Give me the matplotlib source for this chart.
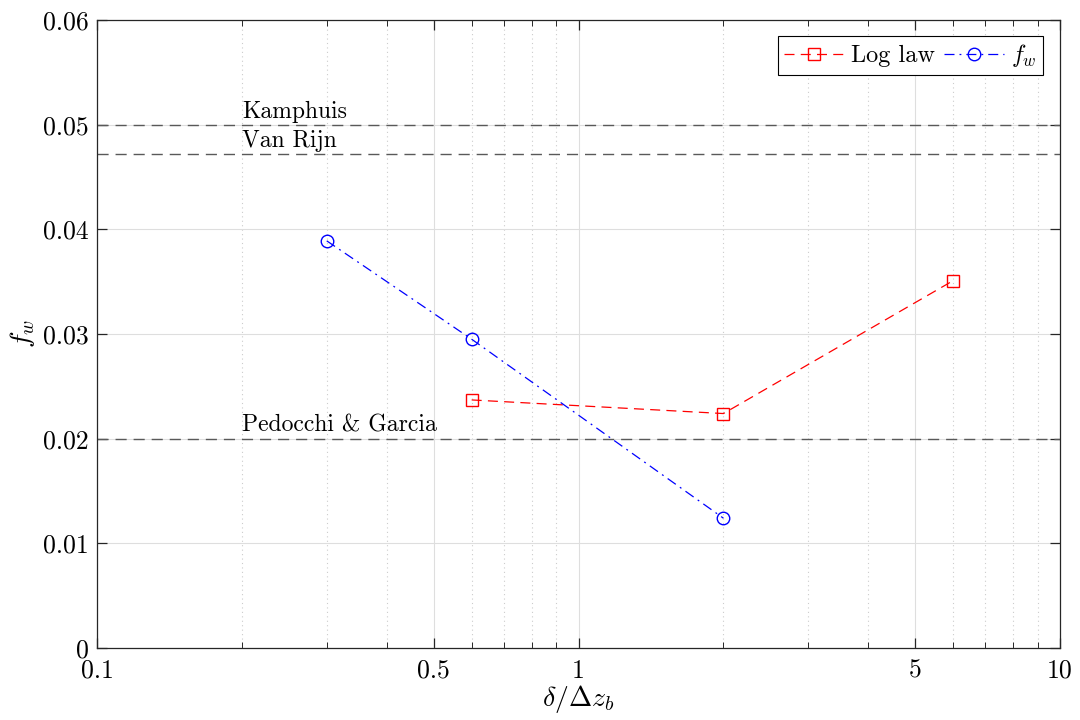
import matplotlib
matplotlib.use("Agg")
import matplotlib.pyplot as plt
from matplotlib.ticker import FixedLocator, FixedFormatter, NullFormatter

plt.rcParams['font.family'] = 'serif'
plt.rcParams['font.serif'] = ['cmr10']
plt.rcParams['mathtext.fontset'] = 'cm'
plt.rcParams['axes.formatter.use_mathtext'] = True

# Data
fw_x = [0.3, 0.6, 2.0]
fw_y = [0.0389, 0.0295, 0.0124]
log_x = [0.6, 2.0, 6.0]
log_y = [0.0237, 0.0224, 0.0351]
ref_names = ["Kamphuis", "Van Rijn", "Pedocchi & Garcia"]
ref_vals = [0.050, 0.0472, 0.020]
ref_label_x = 0.2
xticks = [0.1, 0.5, 1, 5, 10]
xticklabels = ["0.1", "0.5", "1", "5", "10"]
xminor = [0.2, 0.3, 0.4, 0.6, 0.7, 0.8, 0.9, 2, 3, 4, 6, 7, 8, 9]
yticks = [0, 0.01, 0.02, 0.03, 0.04, 0.05, 0.06]
yticklabels = ["0", "0.01", "0.02", "0.03", "0.04", "0.05", "0.06"]

fig = plt.figure(figsize=(10.8, 7.2), dpi=100)
ax = fig.add_axes([97/1080, 72/720, 963/1080, 628/720])
ax.set_xscale('log')
ax.set_xlim(0.1, 10)
ax.set_ylim(0, 0.06)

for v in ref_vals:
    ax.axhline(v, color=(0.35, 0.35, 0.35), lw=1.0, ls=(0, (8, 5)), zorder=2)
for n, v in zip(ref_names, ref_vals):
    ax.text(ref_label_x, v + 0.0002, n, fontsize=17, ha='left', va='bottom', zorder=3)

ax.plot(log_x, log_y, color='red', ls=(0, (8, 5)), lw=0.9, marker='s', ms=8,
        mfc='none', mew=1.0, label='Log law', zorder=4)
ax.plot(fw_x, fw_y, color='blue', ls=(0, (8, 4, 1.5, 4)), lw=0.9, marker='o', ms=9,
        mfc='none', mew=1.0, label='$f_w$', zorder=4)

ax.xaxis.set_major_locator(FixedLocator(xticks))
ax.xaxis.set_major_formatter(FixedFormatter(xticklabels))
ax.xaxis.set_minor_locator(FixedLocator(xminor))
ax.xaxis.set_minor_formatter(NullFormatter())
ax.set_yticks(yticks)
ax.set_yticklabels(yticklabels)

# grid: major ticks solid light, minor dotted
ax.grid(True, which='major', axis='both', color=(0.87, 0.87, 0.87), lw=0.8, zorder=0)
ax.grid(True, which='minor', axis='x', color=(0.8, 0.8, 0.8), lw=0.8, ls=(0, (1, 3)), zorder=0)
ax.set_axisbelow(True)

ax.tick_params(which='both', direction='in', top=True, right=True, labelsize=18.5,
               color=(0.15, 0.15, 0.15))
ax.tick_params(which='major', length=7, width=0.9, pad=6)
ax.tick_params(axis='x', which='major', pad=8)
ax.tick_params(which='minor', length=4, width=0.7)
for s in ax.spines.values():
    s.set_color((0.15, 0.15, 0.15))
    s.set_linewidth(0.9)

ax.set_xlabel(r'$\delta/\Delta z_b$', fontsize=20, labelpad=0)
ax.set_ylabel(r'$f_w$', fontsize=20, labelpad=4)

leg = ax.legend(loc='upper right', ncol=2, fontsize=17.5, frameon=True, fancybox=False,
                edgecolor='black', framealpha=1, handlelength=2.45, columnspacing=0.4,
                handletextpad=0.3, borderpad=0.25, borderaxespad=0,
                bbox_to_anchor=((1043 - 97) / 963, (648 - 36) / 628))
leg.get_frame().set_linewidth(0.8)

fig.savefig('out.png', dpi=100)
